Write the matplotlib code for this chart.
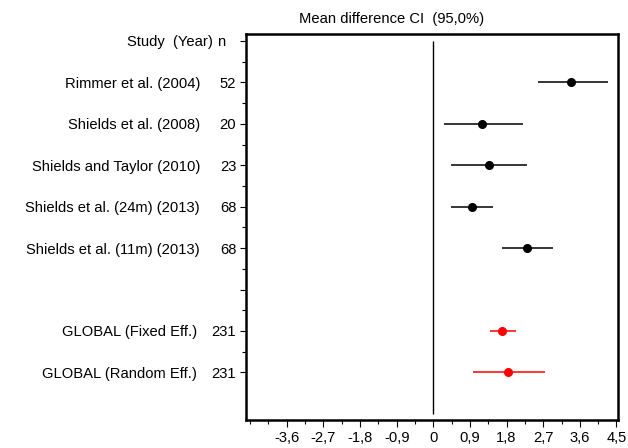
import matplotlib
matplotlib.use("Agg")
import matplotlib.pyplot as plt
from matplotlib.ticker import FixedLocator, MultipleLocator, FuncFormatter

# rows: header, 5 studies, blank, 2 global estimates
studies = [
    "Rimmer et al. (2004)",
    "Shields et al. (2008)",
    "Shields and Taylor (2010)",
    "Shields et al. (24m) (2013)",
    "Shields et al. (11m) (2013)",
]
study_n = [52, 20, 23, 68, 68]
study_mean = [3.39, 1.20, 1.36, 0.95, 2.31]
study_low = [2.58, 0.26, 0.44, 0.44, 1.70]
study_high = [4.30, 2.20, 2.29, 1.46, 2.93]

global_labels = ["GLOBAL (Fixed Eff.)", "GLOBAL (Random Eff.)"]
global_n = [231, 231]
global_mean = [1.69, 1.83]
global_low = [1.39, 0.98]
global_high = [2.02, 2.75]

x_ticks = [-3.6, -2.7, -1.8, -0.9, 0, 0.9, 1.8, 2.7, 3.6, 4.5]

plt.rcParams["font.family"] = ["Liberation Sans", "DejaVu Sans"]
FS = 10.6


def comma_fmt(v, pos):
    if abs(v) < 1e-9:
        return "0"
    return f"{v:.1f}".replace(".", ",")


fig = plt.figure(figsize=(6.28, 4.48), dpi=100)
ax = fig.add_axes([0.3917, 0.0625, 0.5919, 0.8627])

study_rows = list(range(1, len(studies) + 1))
global_rows = [len(studies) + 2 + i for i in range(len(global_labels))]
last_row = global_rows[-1]

ax.vlines(0, 0, last_row + 1, color="black", linewidth=1.0)

for y, m, lo, hi in zip(study_rows, study_mean, study_low, study_high):
    ax.plot([lo, hi], [y, y], color="black", linewidth=1.1, solid_capstyle="butt")
    ax.plot(m, y, "o", color="black", markersize=5.5)

for y, m, lo, hi in zip(global_rows, global_mean, global_low, global_high):
    ax.plot([lo, hi], [y, y], color="red", linewidth=1.1, solid_capstyle="butt")
    ax.plot(m, y, "o", color="red", markersize=5.5)

ax.set_xlim(-4.6, 4.53)
ax.set_ylim(9.15, -0.18)

# x axis
ax.xaxis.set_major_locator(FixedLocator(x_ticks))
ax.xaxis.set_minor_locator(MultipleLocator(0.45))
ax.xaxis.set_major_formatter(FuncFormatter(comma_fmt))
ax.tick_params(axis="x", which="major", length=5, width=0.8, labelsize=FS, pad=3)
ax.tick_params(axis="x", which="minor", length=3, width=0.8)

# y axis: n column as tick labels
ytick_labels = [""] + [str(v) for v in study_n] + [""] + [str(v) for v in global_n]
ax.set_yticks(list(range(last_row + 1)))
ax.set_yticklabels(ytick_labels, fontsize=FS)
ax.yaxis.set_minor_locator(FixedLocator([r + 0.5 for r in range(last_row)]))
ax.tick_params(axis="y", which="major", length=4, width=0.8, pad=3)
ax.tick_params(axis="y", which="minor", length=3, width=0.8)

for s in ax.spines.values():
    s.set_linewidth(1.8)
    s.set_color("black")

# study labels
tr = ax.get_yaxis_transform()
label_x = -0.124
for y, lab in zip(study_rows, studies):
    ax.text(label_x, y, lab, transform=tr, ha="right", va="center_baseline", fontsize=FS)
for y, lab in zip(global_rows, global_labels):
    ax.text(label_x - 0.008, y, lab, transform=tr, ha="right", va="center_baseline", fontsize=FS)

ax.text(-0.09, 0, "Study  (Year)", transform=tr, ha="right", va="center_baseline", fontsize=FS)
ax.text(-0.068, 0, "n", transform=tr, ha="center", va="center_baseline", fontsize=FS)

fig.text(392 / 628, 1 - 17 / 448, "Mean difference CI  (95,0%)", ha="center",
         va="center_baseline", fontsize=FS)

fig.savefig("out.png", dpi=100)
